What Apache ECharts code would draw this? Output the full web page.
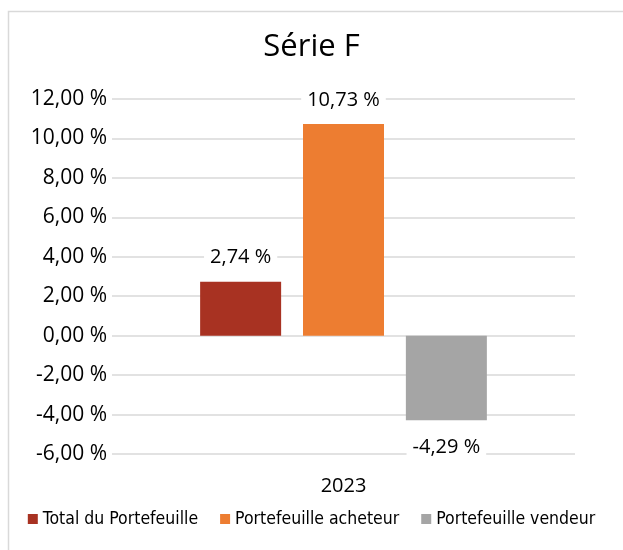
<!DOCTYPE html>
<html>
<head>
<meta charset="utf-8">
<script src="https://cdn.jsdelivr.net/npm/echarts@6/dist/echarts.min.js"></script>
<style>
  html, body { margin: 0; padding: 0; background: #fff; }
  #chart { width: 623px; height: 550px; }
</style>
</head>
<body>
<div id="chart"></div>
<script>
// données
const categories = ['2023'];
const seriesNames = ['Total du Portefeuille', 'Portefeuille acheteur', 'Portefeuille vendeur'];
const seriesValues = [[2.74], [10.73], [-4.29]];
const seriesColors = ['#a83222', '#ed7d31', '#a5a5a5'];

function fmt(v) {
    return v.toFixed(2).replace('.', ',') + '\u00a0%';
}

const chart = echarts.init(document.getElementById('chart'));

const option = {
    animation: false,
    graphic: [{
        type: 'rect',
        shape: { x: 8.5, y: 11.5, width: 640, height: 560 },
        style: { fill: 'none', stroke: '#d9d9d9', lineWidth: 1.5 },
        silent: true
    }],
    title: {
        text: 'Série F',
        left: 'center',
        top: 27,
        textStyle: { fontFamily: 'Open Sans', fontSize: 31, fontWeight: 'normal', color: '#000' }
    },
    legend: {
        bottom: 17,
        left: 'center',
        itemWidth: 10,
        itemHeight: 10,
        itemGap: 22,
        icon: 'rect',
        textStyle: { fontFamily: "'DejaVu Sans Condensed', 'Liberation Sans', sans-serif", fontSize: 17.5, color: '#000' },
        data: seriesNames
    },
    grid: { left: 112, right: 48, top: 99, bottom: 96, outerBoundsMode: 'none' },
    xAxis: {
        type: 'category',
        data: categories,
        axisLine: { show: false },
        axisTick: { show: false },
        axisLabel: { fontFamily: 'Open Sans', fontSize: 20, color: '#000', margin: 22 }
    },
    yAxis: {
        type: 'value',
        min: -6,
        max: 12,
        interval: 2,
        axisLine: { show: false },
        axisTick: { show: false },
        splitLine: { lineStyle: { color: '#d9d9d9', width: 1.5 } },
        axisLabel: { fontFamily: 'Open Sans', fontSize: 21, color: '#000', margin: 5, formatter: fmt }
    },
    series: seriesNames.map(function (name, i) {
        const neg = seriesValues[i][0] < 0;
        return {
            name: name,
            type: 'bar',
            data: seriesValues[i],
            barWidth: 81,
            barGap: '27%',
            itemStyle: { color: seriesColors[i] },
            label: {
                show: true,
                position: neg ? 'bottom' : 'top',
                distance: neg ? 15 : 12,
                fontFamily: 'Open Sans',
                fontSize: 20,
                color: '#000',
                backgroundColor: '#fff',
                padding: [2, 6],
                formatter: function (p) { return fmt(p.value); }
            }
        };
    })
};

chart.setOption(option);
</script>
</body>
</html>
